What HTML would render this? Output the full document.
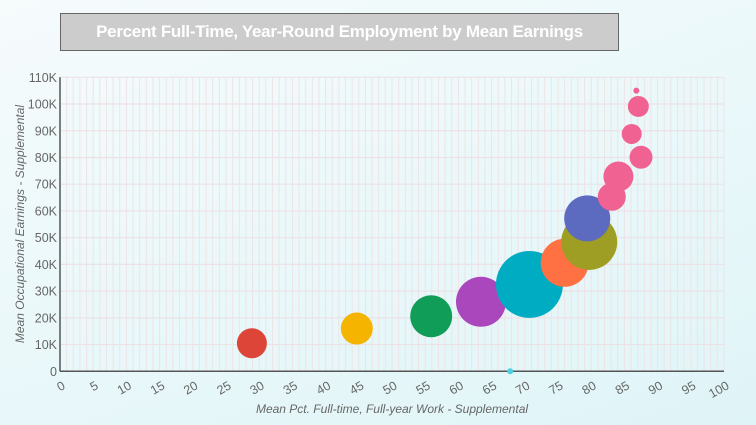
<!DOCTYPE html>
<html><head><meta charset="utf-8"><style>
html,body{margin:0;padding:0}
body{width:756px;height:425px;overflow:hidden;background:linear-gradient(160deg,#f6fbfc 0%,#e9f8fa 55%,#dff4f7 100%);font-family:"Liberation Sans",sans-serif}
#title{position:absolute;left:60px;top:13px;width:557px;height:36px;background:#cccccc;border:1px solid #666;box-sizing:content-box;color:#fff;font-weight:bold;font-size:17px;line-height:36px;text-align:center;letter-spacing:-0.3px}
svg{position:absolute;left:0;top:0}
</style></head><body>
<div id="title">Percent Full-Time, Year-Round Employment by Mean Earnings</div>
<svg id="chart" width="756" height="425"></svg>
<script>
const xValues=[28.9,44.7,55.9,63.4,70.7,76.0,79.7,79.4,83.1,84.1,87.5,86.1,87.1,86.8,67.8];
const yValues=[10500,16000,20600,26000,32500,40600,48400,57200,65300,72900,80100,88800,99100,105000,0];
const sizes=[225,256,441,625,1122,576,784,529,196,225,132,100,110,9,9];
const colors=['#dd4539','#f4b400','#0f9d58','#ab47bc','#00acc1','#ff7043','#9e9d24','#5c6bc0','#f06292','#f06292','#f06292','#f06292','#f06292','#f06292','#4dd0e1'];
const xTicks=[0,5,10,15,20,25,30,35,40,45,50,55,60,65,70,75,80,85,90,95,100];
const yTicks=[0,10000,20000,30000,40000,50000,60000,70000,80000,90000,100000,110000];
const yTickLabels=['0','10K','20K','30K','40K','50K','60K','70K','80K','90K','100K','110K'];
const NS='http://www.w3.org/2000/svg';
const svg=document.getElementById('chart');
const L=60,R=724,T=77.3,B=371.3;
const xs=v=>L+(v/100)*(R-L);
const ys=v=>B-(v/110000)*(B-T);
function mk(tag,attrs,parent){const e=document.createElementNS(NS,tag);for(const k in attrs)e.setAttribute(k,attrs[k]);(parent||svg).appendChild(e);return e;}
const grid=mk('g',{});


for(let i=1;i<=100;i++){mk('line',{x1:xs(i),x2:xs(i),y1:T,y2:B,stroke:'#efe3e6','stroke-width':1},grid);}
yTicks.forEach((t,i)=>{
 if(i>0)mk('line',{x1:L,x2:R,y1:ys(t),y2:ys(t),stroke:'#ece2e5','stroke-width':1.2},grid);
 const tx=mk('text',{x:L-3,y:ys(t)+4.5,'text-anchor':'end','font-size':12.5,fill:'#666'});
 
 
 tx.textContent=yTickLabels[i];
});
xTicks.forEach(t=>{
 const tx=mk('text',{x:0,y:0,'text-anchor':'end','font-size':12.5,fill:'#666',transform:`translate(${xs(t)+6},${388}) rotate(-30)`});
 
 
 tx.textContent=t;
});
const xa=mk('line',{x1:L,x2:R,y1:B,y2:B,stroke:'#555','stroke-width':1.5});


const ya=mk('line',{x1:L,x2:L,y1:T,y2:B,stroke:'#555','stroke-width':1.5});


const xt=mk('text',{x:392,y:413,'text-anchor':'middle','font-size':12,'font-style':'italic',fill:'#666'});


xt.textContent='Mean Pct. Full-time, Full-year Work - Supplemental';
const yt=mk('text',{x:0,y:0,'text-anchor':'middle','font-size':12,'font-style':'italic',fill:'#666',transform:'translate(24,224) rotate(-90)'});


yt.textContent='Mean Occupational Earnings - Supplemental';
xValues.forEach((x,i)=>{
 const c=mk('circle',{cx:xs(x),cy:ys(yValues[i]),r:Math.sqrt(sizes[i]),fill:colors[i]});
 
 
});
</script>
</body></html>
